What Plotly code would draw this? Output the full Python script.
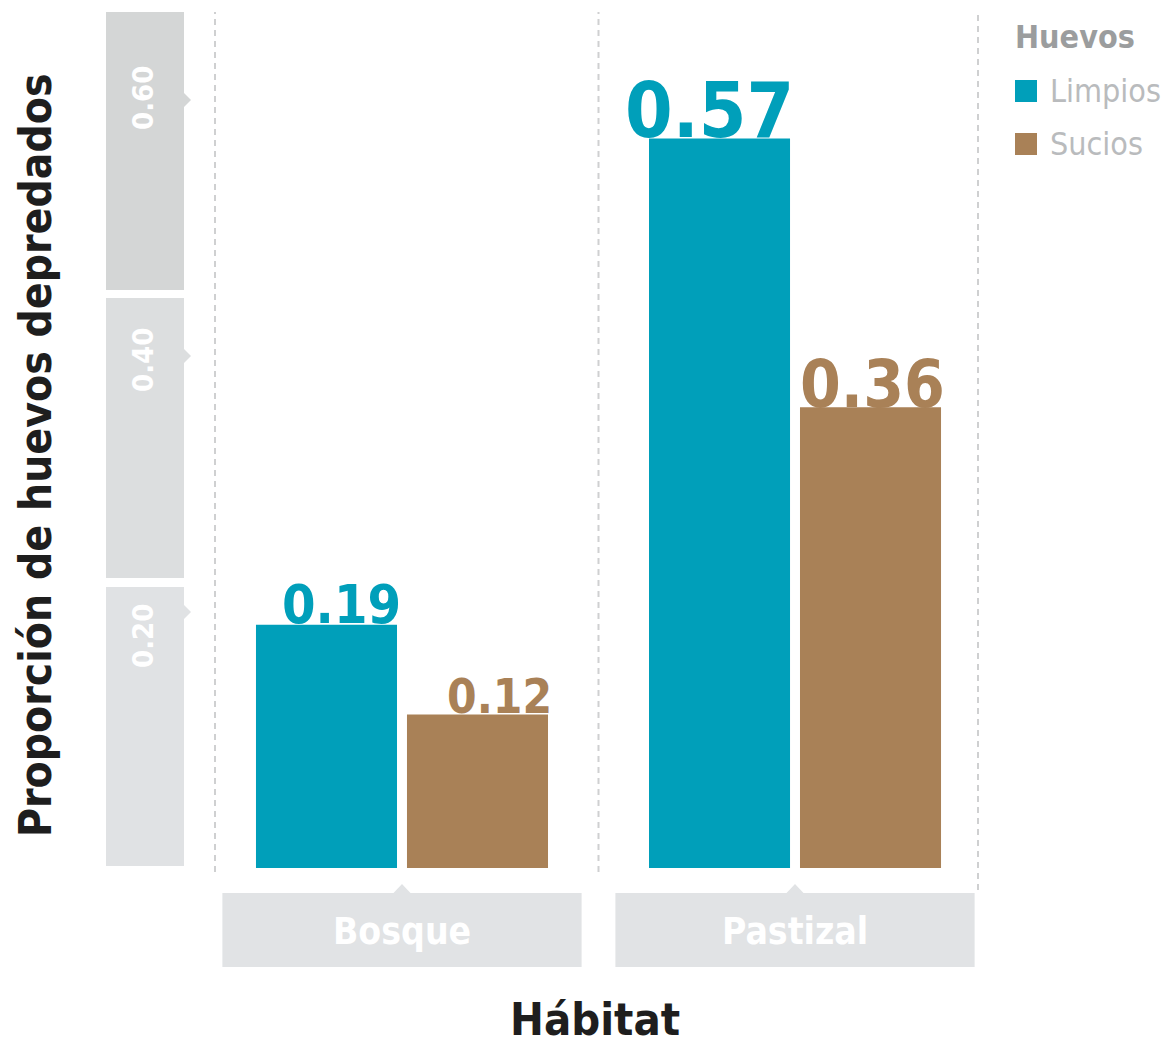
import plotly.graph_objects as go

# Data
habitats = ["Bosque", "Pastizal"]
limpios = [0.19, 0.57]
sucios = [0.12, 0.36]
y_ticks = [0.20, 0.40, 0.60]
y_tick_labels = ["0.20", "0.40", "0.60"]

# Style
COL_LIMPIOS = "#009fba"
COL_SUCIOS = "#a98157"
NARROW = "DejaVu Sans Condensed, Liberation Sans Narrow, sans-serif"
W, H = 1163, 1046
M_L, M_R, M_T, M_B = 215, 185, 12, 178
PW, PH = W - M_L - M_R, H - M_T - M_B
BARGAP, GROUPGAP = 0.2316, 0.066
X_RANGE = [-0.4758, 1.4656]
Y_RANGE = [0, 0.66875]


def px_x(px):
    """pixel column -> paper x"""
    return (px - M_L) / PW


def px_y(py):
    """pixel row -> paper y"""
    return (H - M_B - py) / PH


fig = go.Figure()
fig.add_trace(go.Bar(name="Limpios", x=habitats, y=limpios, marker_color=COL_LIMPIOS,
                     marker_line_width=0, showlegend=False))
fig.add_trace(go.Bar(name="Sucios", x=habitats, y=sucios, marker_color=COL_SUCIOS,
                     marker_line_width=0, showlegend=False))

shapes = []
annotations = []


def label(**kw):
    kw.setdefault("showarrow", False)
    kw.setdefault("xanchor", "center")
    kw.setdefault("yanchor", "middle")
    annotations.append(kw)


# grey bands behind the y tick labels (label text sits a little off the tick in each band)
bands = [(0.0015, 0.2195, "#e0e2e4"), (0.2266, 0.4453, "#dcdedf"), (0.4516, 0.67, "#d4d6d6")]
label_rows = [636, 360, 98]
bx0, bx1 = px_x(106), px_x(184)
for lo, hi, col in bands:
    shapes.append(dict(type="rect", xref="paper", yref="y", x0=bx0, x1=bx1, y0=lo, y1=hi,
                       fillcolor=col, line_width=0, layer="below"))
tri_h = 7 / (PH / (Y_RANGE[1] - Y_RANGE[0]))
for (lo, hi, col), t, lab, row in zip(bands, y_ticks, y_tick_labels, label_rows):
    shapes.append(dict(type="path", xref="paper", yref="y",
                       path=f"M {bx1},{t + tri_h} L {px_x(191)},{t} L {bx1},{t - tri_h} Z",
                       fillcolor=col, line_width=0, layer="below"))
    label(xref="paper", yref="paper", x=px_x(143), y=px_y(row), text=lab, textangle=-90,
          font=dict(family=NARROW, size=29, color="white", weight="bold"))

# dashed separators
dash = dict(color="#cfd0d1", width=2, dash="6px,5px")
shapes.append(dict(type="line", xref="paper", yref="paper", x0=0, x1=0, y0=px_y(872), y1=1, line=dash))
shapes.append(dict(type="line", xref="x", yref="paper", x0=0.5, x1=0.5, y0=px_y(872), y1=1, line=dash))
shapes.append(dict(type="line", xref="paper", yref="paper", x0=1, x1=1, y0=px_y(890), y1=1, line=dash))

# category label boxes under each group
half = 0.457
for i, h in enumerate(habitats):
    shapes.append(dict(type="rect", xref="x", yref="paper", x0=i - half, x1=i + half,
                       y0=px_y(967), y1=px_y(893), fillcolor="#e1e3e5", line_width=0, layer="below"))
    shapes.append(dict(type="path", xref="x", yref="paper",
                       path=f"M {i - 0.024},{px_y(894)} L {i},{px_y(884)} L {i + 0.024},{px_y(894)} Z",
                       fillcolor="#e1e3e5", line_width=0, layer="below"))
    label(xref="x", yref="paper", x=i, y=px_y(931), text=h,
          font=dict(family=NARROW, size=37, color="white", weight="bold"))

# value labels, right aligned on each bar and sized by value
slot = (1 - BARGAP) / 2
bar_w = slot * (1 - GROUPGAP)
for vals, col, offset in ((limpios, COL_LIMPIOS, -(slot - bar_w) / 2),
                          (sucios, COL_SUCIOS, (slot + bar_w) / 2)):
    for i, v in enumerate(vals):
        size = 0.85 * (27 + 83 * v ** 0.5)
        label(xref="x", yref="y", x=i + offset, y=v, text=f"{v:.2f}",
              xanchor="right", yanchor="bottom", xshift=6, yshift=-0.25 * size,
              font=dict(family=NARROW, size=size, color=col, weight="bold"))

# legend
label(xref="paper", yref="paper", x=px_x(1013), y=px_y(37), text="Huevos", xanchor="left",
      font=dict(family=NARROW, size=32, color="#9b9d9e", weight="bold"))
for name, col, top in (("Limpios", COL_LIMPIOS, 80), ("Sucios", COL_SUCIOS, 133)):
    shapes.append(dict(type="rect", xref="paper", yref="paper", x0=px_x(1015), x1=px_x(1037),
                       y0=px_y(top + 22), y1=px_y(top), fillcolor=col, line_width=0))
    label(xref="paper", yref="paper", x=px_x(1048), y=px_y(top + 11), text=name, xanchor="left",
          font=dict(family=NARROW, size=32, color="#b9bbbd"))

# axis titles
label(xref="paper", yref="paper", x=px_x(35), y=px_y(455),
      text="Proporción de huevos depredados", textangle=-90,
      font=dict(family=NARROW, size=44, color="#1e1e1e", weight="bold"))
label(xref="paper", yref="paper", x=px_x(595), y=px_y(1019), text="Hábitat",
      font=dict(family=NARROW, size=45, color="#1e1e1e", weight="bold"))

fig.update_layout(
    width=W, height=H,
    margin=dict(l=M_L, r=M_R, t=M_T, b=M_B),
    paper_bgcolor="white", plot_bgcolor="white",
    barmode="group", bargap=BARGAP, bargroupgap=GROUPGAP,
    shapes=shapes, annotations=annotations,
    xaxis=dict(range=X_RANGE, showgrid=False, zeroline=False, showticklabels=False, ticks="",
               showline=False),
    yaxis=dict(range=Y_RANGE, tickvals=y_ticks, showgrid=False, zeroline=False, showticklabels=False,
               ticks="", showline=False),
    showlegend=False,
)

fig.write_html("out.html")
